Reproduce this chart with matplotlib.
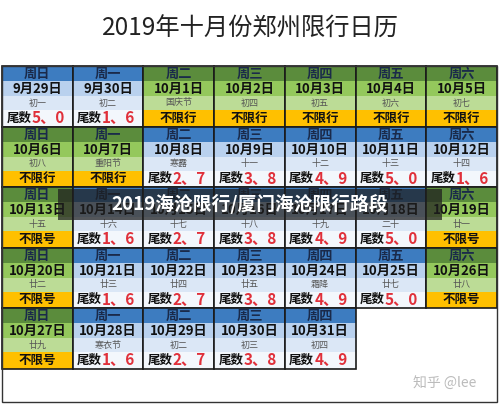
import matplotlib
matplotlib.use("Agg")
import matplotlib.pyplot as plt
from matplotlib.patches import Rectangle

plt.rcParams['font.family'] = ['Noto Sans CJK SC', 'DejaVu Sans']

title = "2019年十月份郑州限行日历"
weekdays = ["周日", "周一", "周二", "周三", "周四", "周五", "周六"]
dates = ["9月29日", "9月30日"] + [f"10月{d}日" for d in range(1, 32)]
lunar = ["初一", "初二", "国庆节", "初四", "初五", "初六", "初七",
         "初八", "重阳节", "寒露", "十一", "十二", "十三", "十四",
         "十五", "十六", "十七", "十八", "十九", "二十", "廿一",
         "廿二", "廿三", "廿四", "廿五", "霜降", "廿七", "廿八",
         "廿九", "寒衣节", "初二", "初三", "初四"]
rules = (["5、0", "1、6"] + ["不限行"] * 7 +
         ["2、7", "3、8", "4、9", "5、0", "1、6"] +
         ["不限号", "1、6", "2、7", "3、8", "4、9", "5、0", "不限号"] +
         ["不限号", "1、6", "2、7", "3、8", "4、9", "5、0", "不限号"] +
         ["不限号", "1、6", "2、7", "3、8", "4、9"])
banner = "2019海沧限行/厦门海沧限行路段"
watermark = "知乎 @lee"

W, H = 500, 404
fig = plt.figure(figsize=(W / 100, H / 100), dpi=100)
ax = fig.add_axes([0, 0, 1, 1])
ax.set_xlim(0, W); ax.set_ylim(H, 0); ax.axis('off')

ax.text(250, 29, title, ha='center', va='center', fontsize=17.5, color='#222222', weight='medium')

x0, y0, cw, ch = 2, 66, 70.7, 60.5
sub = [15, 15, 14, 16.5]
blue = ['#3d7cc0', '#b9d1ee', '#dbe7f6', '#f3f7fc']
green = ['#5b8c3c', '#94c85c', '#bcdc96', '#ffc000']
for i, d in enumerate(dates):
    r, c = divmod(i, 7)
    x = x0 + c * cw; y = y0 + r * ch
    free = not rules[i][0].isdigit()
    pal = green if free else blue
    yy = y
    for k, h in enumerate(sub):
        ax.add_patch(Rectangle((x, yy), cw, h, color=pal[k], lw=0))
        yy += h
    cx = x + cw / 2
    ax.text(cx, y + 8, weekdays[c], ha='center', va='center', fontsize=9.5, color='#1a2a4a', weight='bold')
    ax.text(cx, y + 23, d, ha='center', va='center', fontsize=9.5, color='#111111', weight='bold')
    ax.text(cx, y + 37, lunar[i], ha='center', va='center', fontsize=6.5, color='#555555')
    by = y + 52
    if free:
        ax.text(cx, by, rules[i], ha='center', va='center', fontsize=9, color='#111111', weight='bold')
    else:
        ax.text(cx - 6, by, "尾数", ha='right', va='center', fontsize=9, color='#111111', weight='bold')
        ax.text(cx - 6, by, rules[i], ha='left', va='center', fontsize=11, color='#e0303a', weight='bold')
    ax.add_patch(Rectangle((x, y), cw, ch, fill=False, ec='#1a1a1a', lw=1.2))

ax.add_patch(Rectangle((x0, y0), 7 * cw, H - y0 - 2, fill=False, ec='#333333', lw=1))
ax.add_patch(Rectangle((58, 189), 384, 31, color='#1e1e1e', alpha=0.72, lw=0, zorder=5))
ax.text(250, 204, banner, ha='center', va='center', fontsize=13.5, color='white', weight='bold', zorder=6)
ax.text(445, 384, watermark, ha='center', va='center', fontsize=10, color='#bbbbbb')

fig.savefig("out.png", dpi=100)
